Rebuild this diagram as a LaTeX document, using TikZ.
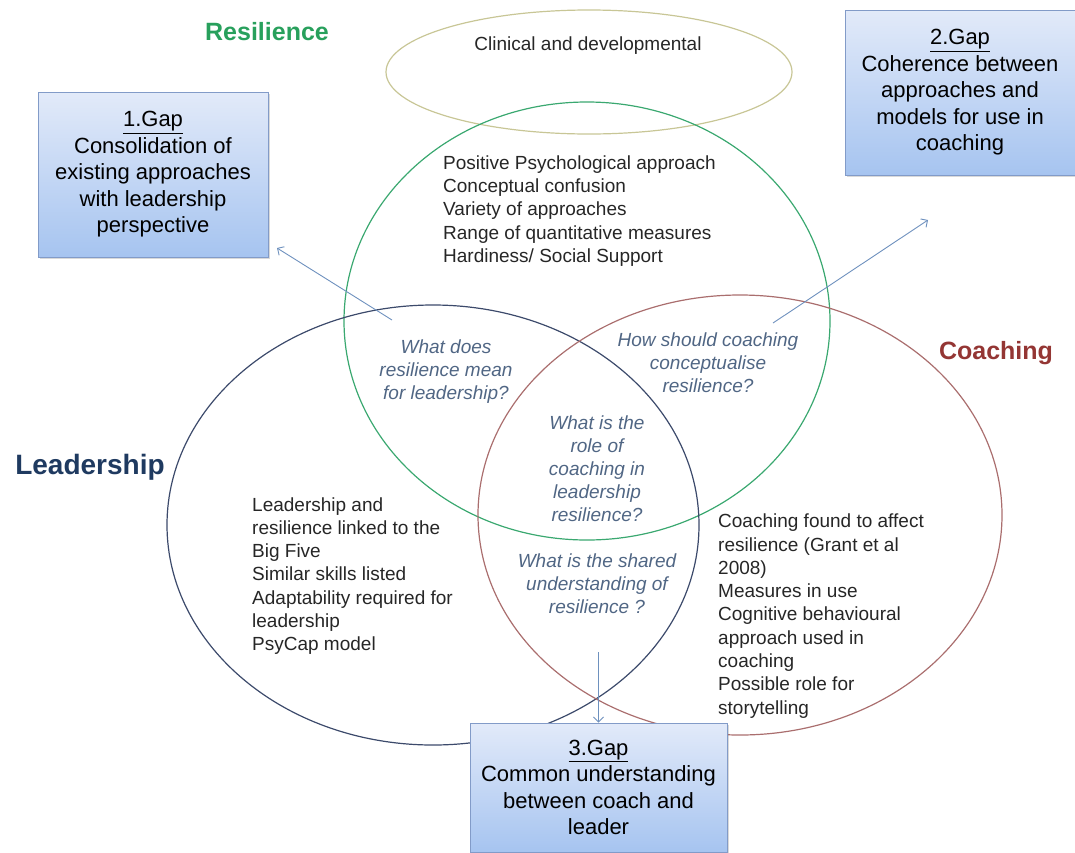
\documentclass[tikz,border=0pt]{standalone}
\usepackage{fontspec}
\setmainfont{Liberation Sans}
\usetikzlibrary{arrows.meta,shadows}
\definecolor{resgreen}{RGB}{58,168,112}
\definecolor{reslabel}{RGB}{40,160,92}
\definecolor{leadnavy}{RGB}{60,74,107}
\definecolor{leadlabel}{RGB}{31,58,96}
\definecolor{coachred}{RGB}{170,110,110}
\definecolor{coachlabel}{RGB}{148,54,52}
\definecolor{clinkhaki}{RGB}{200,198,150}
\definecolor{questblue}{RGB}{80,102,132}
\definecolor{arrowblue}{RGB}{110,145,190}
\definecolor{boxtop}{RGB}{226,234,249}
\definecolor{boxbottom}{RGB}{166,196,240}
\definecolor{boxline}{RGB}{130,155,200}
\begin{document}
\begin{tikzpicture}[x=1pt,y=-1pt,
  setlabel/.style={font=\fontsize{25}{30}\selectfont\bfseries},
  listtext/.style={anchor=west,align=left,inner sep=0pt,text=black!85,font=\fontsize{19}{23.3}\selectfont},
  question/.style={align=center,inner sep=0pt,text=questblue,font=\fontsize{19}{23}\selectfont\itshape},
  gapbox/.style={draw=boxline,line width=0.8pt,top color=boxtop,bottom color=boxbottom,align=center,inner sep=0pt,
    font=\fontsize{22}{26.5}\selectfont,drop shadow={shadow xshift=2pt,shadow yshift=-2pt,opacity=0.3}},
  gaparrow/.style={-{Straight Barb[length=5pt,width=10pt]},line width=0.9pt,color=arrowblue}]
\useasboundingbox (0,0) rectangle (1075,852);
\draw [line width=1.2pt,color=clinkhaki] (589,72) ellipse (203 and 62);
\draw [line width=1.2pt,color=resgreen] (587,321) ellipse (243 and 219);
\draw [line width=1.2pt,color=leadnavy] (433,525) ellipse (266 and 220);
\draw [line width=1.2pt,color=coachred] (740,515) ellipse (262 and 220);

\node[setlabel,text=reslabel] (reslabel) at (267,32) {Resilience};
\node[setlabel,text=coachlabel] (coachlabel) at (996,353) {Coaching};
\node[setlabel,text=leadlabel,font=\fontsize{28}{32}\selectfont\bfseries] (leadlabel) at (90,467) {Leadership};

\node[inner sep=0pt,text=black!85,font=\fontsize{19}{23}\selectfont] (clinical) at (588,46) {Clinical and developmental};
\node[listtext] (reslist) at (443,211) {Positive Psychological approach\\Conceptual confusion\\Variety of approaches\\Range of quantitative measures\\Hardiness/ Social Support};
\node[listtext] (leadlist) at (252,576) {Leadership and\\resilience linked to the\\Big Five\\Similar skills listed\\Adaptability required for\\leadership\\PsyCap model};
\node[listtext] (coachlist) at (718,616) {Coaching found to affect\\resilience (Grant et al\\2008)\\Measures in use\\Cognitive behavioural\\approach used in\\coaching\\Possible role for\\storytelling};

\node[question] (qlead) at (446,372) {What does\\resilience mean\\for leadership?};
\node[question] (qcoach) at (708,363) {How should coaching\\conceptualise\\resilience?};
\node[question] (qrole) at (597,469) {What is the\\role of\\coaching in\\leadership\\resilience?};
\node[question] (qshared) at (597,584) {What is the shared\\understanding of\\resilience ?};

\coordinate (s1) at (392,320);
\coordinate (t1) at (277,248);
\coordinate (s2) at (773,323);
\coordinate (t2) at (928,220);
\coordinate (s3) at (598.5,652);
\draw[gaparrow] (s1) -- (t1);
\draw[gaparrow] (s2) -- (t2);

\node[gapbox,minimum width=230,minimum height=165] (gap1) at (153,174.5) {\underline{1.Gap}\\Consolidation of\\existing approaches\\with leadership\\perspective};
\node[gapbox,minimum width=230,minimum height=165] (gap2) at (960,92.5) {\underline{2.Gap}\\Coherence between\\approaches and\\models for use in\\coaching};
\node[gapbox,minimum width=257,minimum height=129] (gap3) at (598.5,787.5) {\underline{3.Gap}\\Common understanding\\between coach and\\leader};
\draw[gaparrow] (s3) -- (gap3.north);

\end{tikzpicture}
\end{document}
